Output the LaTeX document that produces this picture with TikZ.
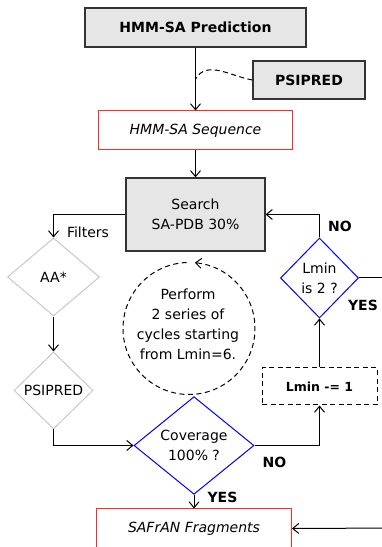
\documentclass[tikz,border=0pt]{standalone}
\usepackage{fontspec}
\setmainfont{DejaVu Sans}
\usetikzlibrary{arrows.meta,shapes.geometric}

\definecolor{boxgray}{HTML}{E6E6E6}
\definecolor{boxedge}{HTML}{333333}
\definecolor{redline}{HTML}{FF2A2A}
\definecolor{blueline}{HTML}{0000FF}
\definecolor{filtline}{HTML}{C8C8C8}

\begin{document}
\begin{tikzpicture}[x=1pt,y=1pt,
  graybox/.style={draw=boxedge,fill=boxgray,line width=1.2pt},
  redbox/.style={draw=redline,line width=1pt},
  filter/.style={diamond,draw=filtline,line width=1pt},
  test/.style={diamond,draw=blueline,line width=1pt},
  dashes/.style={dash pattern=on 5pt off 3.5pt}]
\fontsize{14}{20}\selectfont
\useasboundingbox (0,0) rectangle (382,547);
\clip (0,0) rectangle (382,547);

\begin{scope}[every node/.style={inner sep=0pt,align=center}]
  \node[graybox,minimum width=221,minimum height=39,font=\bfseries] (pred) at (195.5,519.5) {HMM-SA Prediction};
  \node[graybox,minimum width=112,minimum height=38,font=\bfseries] (psipred) at (309,467) {PSIPRED};
  \node[redbox,minimum width=194,minimum height=39,font=\itshape] (seq) at (195.5,416.5) {HMM-SA Sequence};
  \node[graybox,minimum width=139,minimum height=73] (search) at (195.5,332.5) {Search\\SA-PDB 30\%};
  \node[filter,minimum width=92,minimum height=78] (aa) at (53.5,270) {AA*};
  \node[filter,minimum width=79,minimum height=77] (filtpsi) at (53.5,156.5) {PSIPRED};
  \node[test,minimum width=120,minimum height=85] (cov) at (194,101.5) {Coverage\\100\% ?};
  \node[test,minimum width=78,minimum height=80] (lmin) at (319.5,269) {Lmin\\is 2 ?};
  \node[draw,dashes,line width=1pt,minimum width=115,minimum height=37,
        font=\fontsize{12.5}{15}\selectfont\bfseries] (dec) at (319.5,160.5) {Lmin -= 1};
  \node[redbox,minimum width=195,minimum height=39,font=\itshape] (safran) at (194,18.5) {SAFrAN Fragments};
  \node (cycles) at (188,223) {Perform\\2 series of\\cycles starting\\from Lmin=6.};
  \node (filters) at (88,315) {Filters};
  \node[font=\bfseries] (noup) at (340,321) {NO};
  \node[font=\bfseries] (yesup) at (363,242) {YES};
  \node[font=\bfseries] (nodown) at (274.5,85) {NO};
  \node[font=\bfseries] (yesdown) at (222.5,50) {YES};
\end{scope}

\coordinate (join) at (pred.south |- psipred.west);
\coordinate (out) at (400,269);
\coordinate (back) at (400,19);

\begin{scope}[>={Straight Barb[length=6pt,width=10pt]}, line width=1pt]
  \draw[->] (pred) -- (seq);
  \draw[dashes] (psipred.west) to[out=170,in=60] ([yshift=1pt]join);
  \draw[->] (seq) -- (search);
  \draw[->] (search.west) -| (aa.north);
  \draw[->] (aa) -- (filtpsi);
  \draw[->] (filtpsi.south) |- (cov.west);
  \draw[->] (cov) -- (safran);
  \draw[->] (cov.east) -| (dec.south);
  \draw[->] (dec) -- (lmin);
  \draw[->] (lmin.north) |- (search.east);
  \draw (lmin.east) -- (out);
  \draw[->] (back) -- (safran.east);
  % loop of cycles
  \draw[dashes,->] (189,218.5) ++(-268:66) arc[start angle=-268,end angle=85,radius=66];
\end{scope}
\end{tikzpicture}
\end{document}
